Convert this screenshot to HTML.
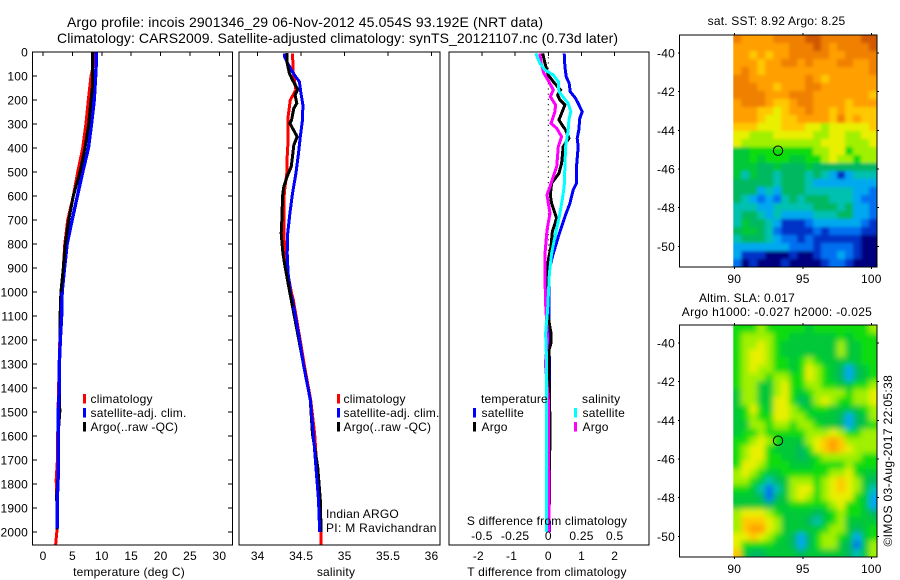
<!DOCTYPE html>
<html>
<head>
<meta charset="utf-8">
<title>Argo profile</title>
<style>
html,body{margin:0;padding:0;background:#fff;}
svg{display:block;}
text{font-family:"Liberation Sans",sans-serif;font-size:12px;fill:#000;letter-spacing:.2px;}
.frame{fill:none;stroke:#000;stroke-width:1;shape-rendering:crispEdges;}
</style>
</head>
<body>
<svg id="fig" width="900" height="580" viewBox="0 0 900 580" xmlns="http://www.w3.org/2000/svg">
  <rect width="900" height="580" fill="#fff"/>
  <defs>
    <filter id="smooth" x="-10%" y="-10%" width="120%" height="120%"><feGaussianBlur stdDeviation="2.8"/></filter>
    <filter id="soft" x="-10%" y="-10%" width="120%" height="120%"><feGaussianBlur stdDeviation="1.7"/></filter>
    <clipPath id="sstClip"><rect x="733.3" y="35" width="143.7" height="232"/></clipPath>
    <clipPath id="slaClip"><rect x="733.3" y="325" width="143.7" height="232"/></clipPath>
  </defs>

  <text x="67" y="27" textLength="476" lengthAdjust="spacing" style="font-size:14px;letter-spacing:0">Argo profile: incois 2901346_29 06-Nov-2012 45.054S 93.192E (NRT data)</text>
  <text x="57" y="43" textLength="561" lengthAdjust="spacing" style="font-size:14px;letter-spacing:0">Climatology: CARS2009. Satellite-adjusted climatology: synTS_20121107.nc (0.73d later)</text>

  <g id="marksTemp"></g>
  <g id="marksSal"></g>
  <g id="marksDiff"></g>
  <g id="mapSst" clip-path="url(#sstClip)"></g>
  <g id="mapSla" clip-path="url(#slaClip)"></g>
  <g id="ticks"></g>

  <rect class="frame" x="32.5" y="52" width="200" height="493"/>
  <rect class="frame" x="239" y="52" width="201" height="493"/>
  <rect class="frame" x="449" y="52" width="200" height="493"/>
  <rect class="frame" x="679.5" y="35" width="197.5" height="232"/>
  <rect class="frame" x="679.5" y="325" width="197.5" height="232"/>

  <text x="129" y="576" text-anchor="middle">temperature (deg C)</text>
  <text x="336" y="576" text-anchor="middle">salinity</text>
  <text x="547" y="576" text-anchor="middle">T difference from climatology</text>
  <text x="547" y="525" text-anchor="middle">S difference from climatology</text>

  <g>
    <rect x="83" y="394" width="3" height="9.5" fill="#f00"/>
    <text x="90.5" y="403">climatology</text>
    <rect x="83" y="408" width="3" height="9.5" fill="#00f"/>
    <text x="90.5" y="417">satellite-adj. clim.</text>
    <rect x="83" y="422" width="3" height="9.5" fill="#000"/>
    <text x="90.5" y="431">Argo(..raw -QC)</text>
  </g>
  <g>
    <rect x="337" y="394" width="3" height="9.5" fill="#f00"/>
    <text x="343.5" y="403">climatology</text>
    <rect x="337" y="408" width="3" height="9.5" fill="#00f"/>
    <text x="343.5" y="417">satellite-adj. clim.</text>
    <rect x="337" y="422" width="3" height="9.5" fill="#000"/>
    <text x="343.5" y="431">Argo(..raw -QC)</text>
  </g>
  <g>
    <text x="481" y="403">temperature</text>
    <rect x="473" y="408" width="3" height="9.5" fill="#00f"/>
    <text x="481.5" y="417">satellite</text>
    <rect x="473" y="422" width="3" height="9.5" fill="#000"/>
    <text x="481.5" y="431">Argo</text>
    <text x="582" y="403">salinity</text>
    <rect x="574" y="408" width="3" height="9.5" fill="#0ff"/>
    <text x="582.5" y="417">satellite</text>
    <rect x="574" y="422" width="3" height="9.5" fill="#f0f"/>
    <text x="582.5" y="431">Argo</text>
  </g>

  <text x="326" y="518">Indian ARGO</text>
  <text x="326" y="532" style="letter-spacing:.3px">PI: M Ravichandran</text>

  <text x="776.5" y="25" text-anchor="middle">sat. SST: 8.92 Argo: 8.25</text>
  <text x="747" y="302" text-anchor="middle">Altim. SLA: 0.017</text>
  <text x="777" y="316" text-anchor="middle" style="letter-spacing:.32px">Argo h1000: -0.027 h2000: -0.025</text>
  <text transform="translate(892 546.5) rotate(-90)" textLength="171.5" lengthAdjust="spacing">©IMOS 03-Aug-2017 22:05:38</text>
</svg>

<script>
const depthTicks = [0,100,200,300,400,500,600,700,800,900,1000,1100,1200,1300,1400,1500,1600,1700,1800,1900,2000];
const tempTicks = [0,5,10,15,20,25,30];
const salTicks = [34,34.5,35,35.5,36];
const salTickLabels = ['34','34.5','35','35.5','36'];
const diffTTicks = [-2,-1,0,1,2];
const diffSTicks = [-0.5,-0.25,0,0.25,0.5];
const diffSTickLabels = ['-0.5','-0.25','0','0.25','0.5'];
const lonTicks = [90,95,100];
const latTicks = [-40,-42,-44,-46,-48,-50];
const profileLon = 93.192;
const profileLat = -45.054;

const tempClimDepth = [0,50,100,200,300,400,500,600,700,800,900,1000,1100,1200,1300,1400,1500,1600,1700,1780,1850,1900,2000,2055];
const tempClimValues = [8.85,8.6,8.16,7.7,7.3,6.75,5.9,5.16,4.2,3.7,3.46,3.2,3.0,2.85,2.75,2.65,2.55,2.5,2.45,2.25,2.3,2.4,2.35,2.15];
const tempSatDepth = [0,50,100,200,300,400,500,600,700,800,900,1000,1090,1200,1300,1400,1500,1600,1700,1800,1850,1985];
const tempSatValues = [9.07,9.05,8.95,8.7,8.25,7.72,6.75,5.85,4.95,4.1,3.65,3.25,3.18,2.95,2.77,2.77,2.6,2.6,2.6,2.55,2.44,2.44];
const tempArgoDepth = [0,145,200,300,400,500,600,700,800,900,1000,1100,1200,1300,1400,1500,1600,1700,1800,1850,1900,1990];
const tempArgoValues = [8.4,8.4,8.16,7.77,7.14,6.29,5.16,4.37,3.8,3.46,3.05,2.9,2.9,2.8,2.8,2.85,2.55,2.55,2.5,2.3,2.4,2.4];

const salClimDepth = [6,89,158,200,269,367,436,506,575,617,756,839,922,1006,1033,1172,1311,1450,1589,1728,1867,1977,2055];
const salClimValues = [34.40,34.41,34.44,34.375,34.35,34.35,34.34,34.335,34.31,34.30,34.30,34.315,34.345,34.39,34.41,34.475,34.54,34.61,34.655,34.68,34.70,34.73,34.73];
const salSatDepth = [6,19,47,89,124,165,221,283,353,422,506,589,672,756,839,922,1006,1033,1172,1311,1450,1589,1728,1867,2000];
const salSatValues = [34.31,34.31,34.345,34.41,34.48,34.495,34.52,34.515,34.49,34.47,34.44,34.40,34.37,34.345,34.34,34.35,34.38,34.40,34.47,34.53,34.605,34.64,34.67,34.70,34.713];
const salArgoDepth = [5,47,89,117,156,179,214,235,283,297,353,388,436,478,513,561,603,686,755,839,895,964,1061,1450,1589,1728,1867,2000];
const salArgoValues = [34.335,34.34,34.365,34.40,34.46,34.43,34.45,34.415,34.39,34.37,34.455,34.415,34.40,34.385,34.345,34.30,34.285,34.28,34.27,34.29,34.315,34.35,34.40,34.605,34.63,34.69,34.72,34.73];

const diffTSatDepth = [6,61,103,131,165,193,214,249,276,325,360,394,478,547,575,631,686,770,839,908,1075,1300,1600,1700,2000];
const diffTSatValues = [0.48,0.5,0.54,0.63,0.66,0.82,0.9,1.02,0.95,0.92,0.87,0.9,0.85,0.85,0.75,0.65,0.5,0.3,0.15,0.02,0.02,0.03,0.04,0.02,0.03];
const diffTArgoDepth = [6,47,96,124,158,179,200,221,249,283,304,325,360,394,464,506,547,596,631,693,749,811,867,922,1075,1172,1213,1240,1400,1550,2000];
const diffTArgoValues = [-0.17,-0.1,0,0.15,0.37,0.28,0.35,0.5,0.42,0.32,0.42,0.52,0.62,0.45,0.4,0.32,0.1,0.06,0.1,0.25,0.12,0.08,0,-0.02,-0.04,0.08,0.08,0.02,0.03,0.05,0.02];
const diffSSatDepth = [6,47,75,96,124,165,214,249,283,325,394,478,561,617,686,770,839,922,1075,1172,1300,1600,2000];
const diffSSatValues = [-0.095,-0.063,-0.025,0.038,0.075,0.08,0.15,0.17,0.155,0.15,0.13,0.125,0.12,0.105,0.083,0.05,0.025,0.008,-0.005,-0.02,-0.012,-0.012,-0.015];
const diffSArgoDepth = [6,47,89,124,158,186,221,249,297,318,353,394,478,519,561,596,672,742,839,908,1033,1200,1297,1450,1730,1750,2000];
const diffSArgoValues = [-0.063,-0.055,-0.033,0.005,0.038,0.015,0.055,0.05,0.02,0.063,0.1,0.075,0.063,0.038,0.013,-0.01,0.013,-0.01,-0.025,-0.025,-0.022,-0.005,-0.022,0,0.001,0.005,0.005];
const zeroLineDepth = [0,900];

const colorScale = ['#00007f','#0030c8','#0070f0','#00a8f0','#00c0b0','#00b860','#00c838','#08dc08','#a0f000','#e8f000','#ffc800','#ff9f00','#f08000','#d05800'];

const sstLevels = [
[12,11,11,11,11,12,12,12,12,13,13,12,12,12,12,12,13,13],
[11,11,11,11,11,11,11,12,12,12,13,12,11,12,12,12,12,13],
[11,11,10,11,10,11,11,12,12,12,12,12,11,11,12,12,12,12],
[11,11,11,10,11,11,12,12,11,12,11,11,11,12,12,11,11,12],
[11,12,11,10,11,11,11,11,11,11,11,11,11,11,11,11,11,12],
[12,12,11,11,11,11,11,11,11,12,11,10,11,11,11,11,11,11],
[12,12,12,11,11,10,11,11,11,12,12,11,11,11,11,11,11,11],
[12,12,12,12,11,11,11,12,12,12,11,11,11,11,11,11,11,10],
[11,12,12,12,11,10,10,11,12,12,11,11,11,11,10,11,11,11],
[11,11,11,10,10,9,10,11,11,12,11,11,10,11,10,10,10,10],
[11,11,11,10,9,9,10,10,11,11,11,11,10,12,10,11,10,10],
[10,10,10,9,9,9,10,10,10,9,9,8,9,9,9,9,9,10],
[9,9,8,8,8,9,9,9,9,9,8,8,9,9,8,8,9,9],
[9,8,8,8,8,8,8,8,8,8,8,9,9,9,8,8,8,9],
[6,6,7,7,7,7,7,7,7,7,8,8,9,9,7,8,8,8],
[6,6,7,6,7,7,7,6,6,7,7,8,9,8,8,7,8,8],
[6,6,6,5,5,6,5,5,5,6,5,5,5,5,5,5,5,5],
[6,4,6,5,5,4,5,5,5,4,5,4,3,1,3,4,4,4],
[5,5,5,5,5,4,5,5,5,4,3,3,3,3,3,3,3,3],
[5,5,5,3,4,3,5,5,5,4,4,4,4,4,4,3,3,2],
[5,4,3,2,3,2,4,5,4,5,5,5,4,4,4,3,2,2],
[4,4,4,3,3,4,4,4,4,4,5,5,5,4,5,3,3,2],
[4,5,5,4,3,4,3,3,3,3,4,4,4,5,5,3,3,2],
[4,6,5,5,4,3,1,1,1,2,3,3,3,3,3,3,2,1],
[5,6,6,5,4,2,1,1,1,1,2,1,2,2,2,2,1,1],
[4,5,5,5,4,3,2,2,1,2,1,1,1,1,1,1,0,0],
[3,3,3,3,3,3,3,2,2,2,1,2,2,2,2,1,0,0],
[3,1,1,1,0,0,0,1,0,0,1,2,2,3,2,1,0,0],
[2,0,1,0,0,0,1,0,0,0,0,1,2,2,1,0,0,0]
];

const slaLevels = [
[7,7,7,8,7,7,7,7,7,6,7,7,7,7,7,7,7,8],
[7,8,8,8,8,7,7,6,6,6,6,6,6,7,6,7,7,7],
[7,8,8,9,8,7,6,6,6,6,6,6,6,8,6,6,7,7],
[7,8,9,9,8,7,6,6,6,6,6,6,6,8,6,6,7,7],
[7,8,9,9,8,7,7,6,7,8,7,6,6,6,6,6,7,7],
[7,8,9,8,8,7,7,6,7,9,8,7,6,5,3,5,6,7],
[7,8,8,8,7,8,8,7,7,9,8,7,6,5,3,5,6,7],
[7,8,8,6,6,8,9,7,7,8,8,7,7,6,6,7,7,8],
[6,8,8,6,6,8,9,7,6,7,8,8,8,8,7,8,8,9],
[6,8,8,6,6,9,9,7,5,6,8,9,8,7,7,8,8,9],
[6,7,9,7,6,9,9,8,7,6,7,7,6,6,6,6,7,8],
[6,7,8,7,7,9,9,8,8,7,6,6,6,5,3,5,6,8],
[6,6,8,8,7,8,8,7,8,8,7,6,6,5,3,5,6,7],
[6,7,7,8,7,7,7,7,7,8,8,8,9,8,7,7,8,8],
[7,7,8,9,8,7,6,6,6,8,9,10,11,10,8,8,8,8],
[7,8,9,9,7,6,6,6,5,7,9,10,11,10,9,8,8,8],
[7,8,9,9,7,7,6,6,5,6,7,8,8,8,8,8,7,7],
[7,9,9,8,7,7,7,6,6,6,7,7,7,7,8,7,7,7],
[8,9,8,7,6,6,7,7,7,7,7,7,8,8,9,7,6,6],
[8,8,7,6,4,5,6,8,8,8,7,8,9,10,9,8,6,5],
[7,7,6,4,2,4,6,8,9,9,7,8,9,10,9,8,6,4],
[6,6,6,5,2,5,6,8,9,8,7,8,9,9,9,7,6,3],
[6,6,6,6,5,6,6,7,7,7,7,7,8,9,7,7,6,3],
[8,9,9,9,8,7,6,6,6,6,5,6,7,8,7,7,6,5],
[8,10,10,10,9,8,6,6,6,5,4,6,7,8,6,6,6,6],
[8,10,11,11,9,8,6,6,6,6,6,7,8,8,6,5,6,7],
[9,9,10,9,8,7,6,5,3,5,7,8,8,7,6,3,6,7],
[9,7,7,7,7,6,6,5,3,5,7,8,8,6,5,2,6,8],
[10,6,5,5,6,6,6,6,5,6,6,6,6,6,5,4,6,8]
];

const NS = 'http://www.w3.org/2000/svg';
function mk(tag, parent, attrs){
  const e = document.createElementNS(NS, tag);
  for (const k in attrs) e.setAttribute(k, attrs[k]);
  parent.appendChild(e);
  return e;
}

/* axis functions */
const yDepth = d => 52 + 0.24 * d;
const xTemp = t => 43 + 5.88 * t;
const xSal = s => 257.7 + 86.9 * (s - 34);
const xDiffT = t => 548.3 + 33.2 * t;
const xDiffS = s => 548.3 + 132.8 * s;
const xLon = lon => 734.3 + 13.7 * (lon - 90);
const yLat = (lat, top) => top + 18 + 19.33 * (-40 - lat);

function drawLine(parent, depths, values, xFn, color, width, maxDepth){
  const pts = depths
    .map((d, i) => [d, values[i]])
    .filter(p => maxDepth === undefined || p[0] <= maxDepth)
    .map(p => xFn(p[1]).toFixed(1) + ',' + yDepth(p[0]).toFixed(1))
    .join(' ');
  return mk('polyline', parent, {points: pts, fill: 'none', stroke: color, 'stroke-width': width, 'stroke-linejoin': 'miter', 'shape-rendering': 'crispEdges'});
}

const gT = document.getElementById('marksTemp');
const lineTC = drawLine(gT, tempClimDepth, tempClimValues, xTemp, '#f00', 3);


const lineTU = drawLine(gT, tempArgoDepth, tempArgoValues, xTemp, '#000', 3);


const lineTB = drawLine(gT, tempSatDepth, tempSatValues, xTemp, '#00f', 3.4);


const lineTA = drawLine(gT, tempArgoDepth, tempArgoValues, xTemp, '#000', 3, 1000);



const gS = document.getElementById('marksSal');
const lineSC = drawLine(gS, salClimDepth, salClimValues, xSal, '#f00', 3);


const lineSA = drawLine(gS, salArgoDepth, salArgoValues, xSal, '#000', 3);


const lineSS = drawLine(gS, salSatDepth, salSatValues, xSal, '#00f', 3);


const lineSA2 = drawLine(gS, salArgoDepth, salArgoValues, xSal, '#000', 3, 1061);



const gD = document.getElementById('marksDiff');
const lineZero = mk('line', gD, {x1: xDiffT(0), x2: xDiffT(0), y1: yDepth(zeroLineDepth[0]), y2: yDepth(zeroLineDepth[1]), stroke: '#000', 'stroke-width': 1, 'stroke-dasharray': '1.2 4'});


const lineDB = drawLine(gD, diffTSatDepth, diffTSatValues, xDiffT, '#00f', 3);


const lineDK = drawLine(gD, diffTArgoDepth, diffTArgoValues, xDiffT, '#000', 3);


const lineDM = drawLine(gD, diffSArgoDepth, diffSArgoValues, xDiffS, '#f0f', 3);


const lineDC = drawLine(gD, diffSSatDepth, diffSSatValues, xDiffS, '#0ff', 3);



/* heatmaps: edge cells overhang the clip so the blur does not fade at the borders */
function drawMap(group, levels, top, filterUrl){
  const left = 733.3, w = 143.7 / levels[0].length, h = 232 / levels.length, pad = 12;
  const holder = mk('g', group, {filter: filterUrl});
  
  
  const lastR = levels.length - 1, lastC = levels[0].length - 1;
  levels.forEach((row, r) => row.forEach((v, c) => {
    const x0 = left + c * w - (c === 0 ? pad : 0);
    const y0 = top + r * h - (r === 0 ? pad : 0);
    const x1 = left + (c + 1) * w + (c === lastC ? pad : 0.4);
    const y1 = top + (r + 1) * h + (r === lastR ? pad : 0.4);
    const cell = mk('rect', holder, {x: x0.toFixed(2), y: y0.toFixed(2), width: (x1 - x0).toFixed(2), height: (y1 - y0).toFixed(2), fill: colorScale[v]});
    
    
  }));
}
drawMap(document.getElementById('mapSst'), sstLevels, 35, 'url(#soft)');
drawMap(document.getElementById('mapSla'), slaLevels, 325, 'url(#smooth)');

/* ticks and labels */
const tg = document.getElementById('ticks');
function tickLine(x1, y1, x2, y2){
  const t = mk('line', tg, {x1: x1, y1: y1, x2: x2, y2: y2, stroke: '#000', 'stroke-width': 1, 'shape-rendering': 'crispEdges'});
  
  
}
function tickLabel(x, y, str, anchor){
  const t = mk('text', tg, {x: x, y: y, 'text-anchor': anchor});
  t.textContent = str;
  
  
}
depthTicks.forEach(d => {
  const y = yDepth(d);
  tickLine(32.5, y, 37, y);
  tickLine(228, y, 232.5, y);
  tickLabel(28, y + 4.5, String(d), 'end');
});
tempTicks.forEach(t => {
  const x = xTemp(t);
  tickLine(x, 52, x, 56);
  tickLabel(x, 560, String(t), 'middle');
});
salTicks.forEach((s, i) => {
  const x = xSal(s);
  tickLine(x, 52, x, 56);
  tickLabel(x, 560, salTickLabels[i], 'middle');
});
diffTTicks.forEach(t => {
  const x = xDiffT(t);
  tickLine(x, 52, x, 56);
  tickLabel(t < 0 ? x - 3.5 : x, 560, String(t), 'middle');
});
diffSTicks.forEach((s, i) => {
  tickLabel(xDiffS(s), 540, diffSTickLabels[i], 'middle');
});
[35, 325].forEach(top => {
  const bottom = top + 232;
  lonTicks.forEach(lon => {
    const x = xLon(lon);
    tickLine(x, top - 2, x, top);
    tickLine(x, bottom, x, bottom + 2);
    tickLabel(x, bottom + 16, String(lon), 'middle');
  });
  latTicks.forEach(lat => {
    const y = yLat(lat, top);
    tickLine(678, y, 679.5, y);
    tickLine(877, y, 879, y);
    tickLabel(675, y + 4.5, String(lat), 'end');
  });
  const marker = mk('circle', tg, {cx: xLon(profileLon), cy: yLat(profileLat, top), r: 4.7, fill: 'none', stroke: '#000', 'stroke-width': 1});
  
  
});
</script>
</body>
</html>
